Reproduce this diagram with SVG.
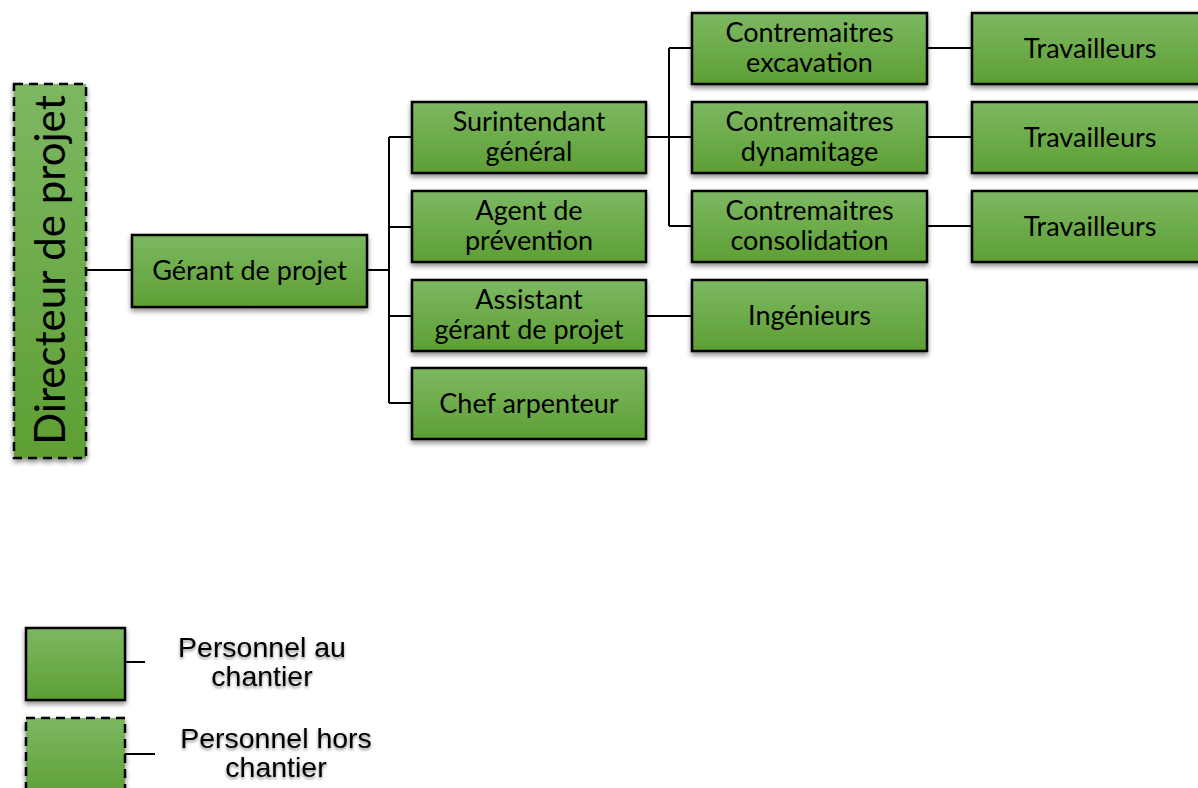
<svg xmlns="http://www.w3.org/2000/svg" width="1198" height="788" viewBox="0 0 1198 788">
<defs>
<linearGradient id="g" x1="0" y1="0" x2="0" y2="1">
<stop offset="0" stop-color="#7cb862"/>
<stop offset="1" stop-color="#5e9f34"/>
</linearGradient>
<filter id="sh" x="-10%" y="-10%" width="120%" height="130%">
<feDropShadow dx="0" dy="3" stdDeviation="2.5" flood-color="#000" flood-opacity="0.45"/>
</filter>
<filter id="tsh" x="-10%" y="-20%" width="120%" height="150%">
<feDropShadow dx="0" dy="2" stdDeviation="1.8" flood-color="#000" flood-opacity="0.45"/>
</filter>
</defs>
<style>
.box{fill:url(#g);stroke:#000;stroke-width:2.5;filter:url(#sh)}
.dash{stroke-dasharray:9 6}
.t{font-family:Lato,"Open Sans",sans-serif;font-size:27px;fill:#000;text-anchor:middle}
.c{fill:none;stroke:#000;stroke-width:2}
.lg{font-family:"Liberation Sans",Arial,sans-serif;font-size:28.5px;fill:#000;text-anchor:middle;filter:url(#tsh)}
</style>
<rect width="1198" height="788" fill="#fff"/>
<g id="connectors">
<path class="c" d="M86 270H132"/>
<path class="c" d="M367 270H389M389 137V403M389 137H412M389 227H412M389 316H412M389 403H412"/>
<path class="c" d="M646 137H692M669 48V226M669 48H692M669 226H692"/>
<path class="c" d="M646 316H692"/>
<path class="c" d="M927 48H972M927 137H972M927 226H972"/>
</g>
<g id="directeur">
<rect class="box dash" x="14" y="84" width="72" height="374"/>
<text class="t" style="font-size:42px" transform="translate(65 270) rotate(-90)">Directeur de projet</text>
</g>
<g id="gerant">
<rect class="box" x="132" y="235" width="235" height="72"/>
<text class="t" x="249.5" y="280">Gérant de projet</text>
</g>
<g id="surintendant">
<rect class="box" x="412" y="102" width="234" height="71"/>
<text class="t" x="529" y="131">Surintendant</text>
<text class="t" x="529" y="161">général</text>
</g>
<g id="agent">
<rect class="box" x="412" y="191" width="234" height="71"/>
<text class="t" x="529" y="220">Agent de</text>
<text class="t" x="529" y="250">prévention</text>
</g>
<g id="assistant">
<rect class="box" x="412" y="280" width="234" height="71"/>
<text class="t" x="529" y="309">Assistant</text>
<text class="t" x="529" y="339">gérant de projet</text>
</g>
<g id="chef">
<rect class="box" x="412" y="368" width="234" height="71"/>
<text class="t" x="529" y="413">Chef arpenteur</text>
</g>
<g id="excavation">
<rect class="box" x="692" y="13" width="235" height="71"/>
<text class="t" x="809.5" y="42">Contremaitres</text>
<text class="t" x="809.5" y="72">excavation</text>
</g>
<g id="dynamitage">
<rect class="box" x="692" y="102" width="235" height="71"/>
<text class="t" x="809.5" y="131">Contremaitres</text>
<text class="t" x="809.5" y="161">dynamitage</text>
</g>
<g id="consolidation">
<rect class="box" x="692" y="191" width="235" height="71"/>
<text class="t" x="809.5" y="220">Contremaitres</text>
<text class="t" x="809.5" y="250">consolidation</text>
</g>
<g id="ingenieurs">
<rect class="box" x="692" y="280" width="235" height="71"/>
<text class="t" x="809.5" y="325">Ingénieurs</text>
</g>
<g id="travailleurs1">
<rect class="box" x="972" y="13" width="240" height="71"/>
<text class="t" x="1090" y="58">Travailleurs</text>
</g>
<g id="travailleurs2">
<rect class="box" x="972" y="102" width="240" height="71"/>
<text class="t" x="1090" y="147">Travailleurs</text>
</g>
<g id="travailleurs3">
<rect class="box" x="972" y="191" width="240" height="71"/>
<text class="t" x="1090" y="236">Travailleurs</text>
</g>
<g id="legend">
<rect class="box" x="26" y="628" width="99" height="72"/>
<path class="c" d="M125 662H145"/>
<text class="lg" x="262" y="657">Personnel au</text>
<text class="lg" x="262" y="686">chantier</text>
<rect class="box dash" x="26" y="718" width="99" height="80"/>
<path class="c" d="M125 754H155"/>
<text class="lg" x="276" y="748">Personnel hors</text>
<text class="lg" x="276" y="777">chantier</text>
</g>
</svg>
